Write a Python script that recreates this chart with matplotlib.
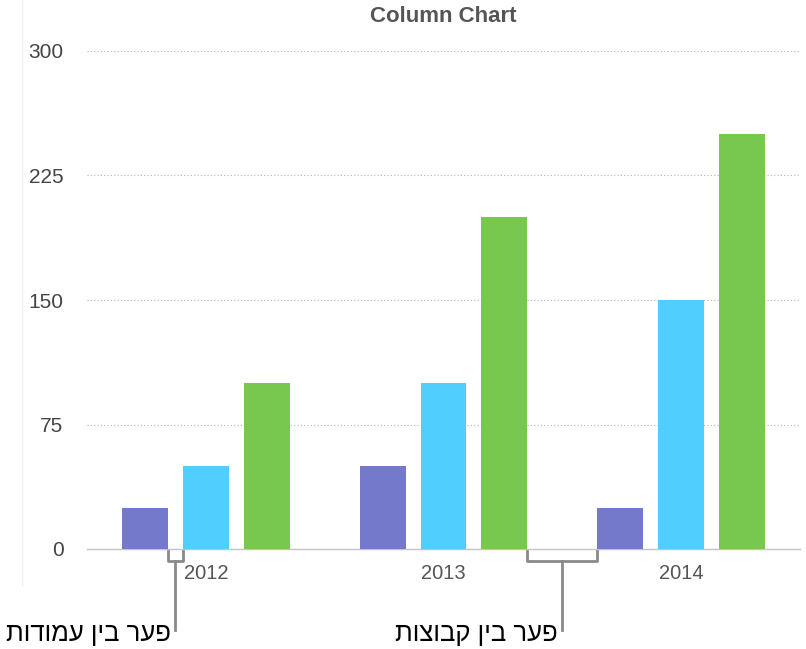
import matplotlib
matplotlib.use("Agg")
import matplotlib.pyplot as plt
from matplotlib.lines import Line2D
import numpy as np

# data
years = ["2012", "2013", "2014"]
series_a = [25, 50, 25]
series_b = [50, 100, 150]
series_c = [100, 200, 250]
y_ticks = [0, 75, 150, 225, 300]
colors = ["#7479CB", "#50CEFD", "#78C850"]

label_bar_gap = "פער בין עמודות"
label_group_gap = "פער בין קבוצות"


# matplotlib has no bidi support, so hebrew is fed in visual order
def rtl(s):
    return s[::-1]


plt.rcParams['font.family'] = ['Liberation Sans', 'DejaVu Sans']

fig = plt.figure(figsize=(8.06, 6.49), dpi=100)
ax = fig.add_axes([87 / 806, 100 / 649, 713 / 806, 498 / 649])

x = np.arange(len(years))
width = 0.193
step = 0.256
for i, vals in enumerate([series_a, series_b, series_c]):
    ax.bar(x + (i - 1) * step, vals, width=width, color=colors[i], zorder=3)

ax.set_xlim(-0.5, 2.5)
ax.set_ylim(0, 300)
ax.set_yticks(y_ticks)
ax.set_yticklabels([str(v) for v in y_ticks], fontsize=15, color="#444444")
ax.set_xticks(x)
ax.set_xticklabels(years, fontsize=14.5, color="#555555")
ax.tick_params(axis="y", length=0, pad=17)
ax.tick_params(axis="x", length=0, pad=11)

for s in ["top", "right", "left"]:
    ax.spines[s].set_visible(False)
ax.spines["bottom"].set_color("#c4c4c4")
ax.spines["bottom"].set_linewidth(1)

ax.yaxis.grid(True, linestyle=(0, (1, 2)), color="#b5b5b5", linewidth=0.8, zorder=0)
ax.set_axisbelow(True)

ax.set_title("Column Chart", fontsize=16, fontweight="bold", color="#555555", pad=21)

# brackets under the axis
def bracket(x0, x1, text):
    xm = (x0 + x1) / 2
    kw = dict(color="#8a8a8a", linewidth=2, clip_on=False, zorder=4)
    ax.plot([x0, x0, x1, x1], [-1.5, -7.5, -7.5, -1.5], **kw)
    ax.plot([xm, xm], [-7.5, -49], **kw)
    ax.text(xm - 0.02, -51, rtl(text), ha="right", va="center", fontsize=18.5, color="black")

bracket(0 - step + width / 2, 0 - width / 2, label_bar_gap)
bracket(1 + step + width / 2, 2 - step - width / 2, label_group_gap)

fig.add_artist(Line2D([22 / 806, 22 / 806], [1 - 585 / 649, 1], color="#efefef", linewidth=1))

fig.savefig("out.png", dpi=100)
